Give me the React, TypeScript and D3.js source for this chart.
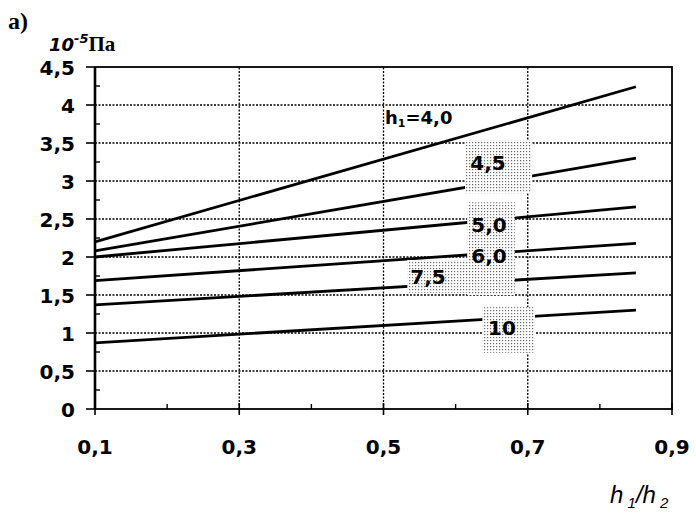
import React from "react";
import * as d3 from "d3";

// Curves: pressure (×10^-5 Pa) versus h1/h2 for several h1
const ratioStart = 0.1;
const ratioEnd = 0.85;
const seriesNames = ["4,0", "4,5", "5,0", "6,0", "7,5", "10"];
const valuesAtStart = [2.2, 2.08, 2.0, 1.69, 1.37, 0.87];
const valuesAtEnd = [4.24, 3.3, 2.66, 2.18, 1.79, 1.3];

const yTicks = [0, 0.5, 1, 1.5, 2, 2.5, 3, 3.5, 4, 4.5];
const yMinor = [0.25, 0.75, 1.25, 1.75, 2.25, 2.75, 3.25, 3.75, 4.25];
const xTicks = [0.1, 0.3, 0.5, 0.7, 0.9];
const xMinor = [0.2, 0.4, 0.6, 0.8];

const W = 696;
const H = 518;
const x = d3.scaleLinear().domain([0.1, 0.9]).range([95, 672]);
const y = d3.scaleLinear().domain([0, 4.5]).range([409, 67]);

const fmt = (v: number) => String(v).replace(".", ",");

const line = d3
  .line<[number, number]>()
  .x((d) => x(d[0]))
  .y((d) => y(d[1]));

// stippled label backgrounds in data coordinates: [x0, x1, yTop, yBottom]
const boxes: [number, number, number, number][] = [
  [0.613, 0.706, 3.54, 2.84],
  [0.616, 0.682, 2.72, 1.5],
  [0.533, 0.62, 1.96, 1.53],
  [0.637, 0.71, 1.34, 0.74],
];

export default function App() {
  const font = "'DejaVu Sans', 'Liberation Sans', Arial, sans-serif";
  const serif = "'Liberation Serif', 'DejaVu Serif', serif";
  return (
    <svg
      width={W}
      height={H}
      style={{ position: "absolute", left: 0, top: 0, background: "#fff" }}
    >
      <defs>
        <pattern id="stip" width="3" height="3" patternUnits="userSpaceOnUse">
          <rect width="3" height="3" fill="#fff" />
          <rect x="1" y="1" width="1.2" height="1.2" fill="#6a6a6a" />
        </pattern>
      </defs>

      {/* dotted grid */}
      {yTicks.slice(1, -1).map((t) => (
        <line
          key={"gy" + t}
          x1={x(0.1)}
          x2={x(0.9)}
          y1={y(t)}
          y2={y(t)}
          stroke="#000"
          strokeWidth={1.3}
          strokeDasharray="2,1.5"
        />
      ))}
      {xTicks.slice(1, -1).map((t) => (
        <line
          key={"gx" + t}
          x1={x(t)}
          x2={x(t)}
          y1={y(0)}
          y2={y(4.5)}
          stroke="#000"
          strokeWidth={1.3}
          strokeDasharray="2,1.5"
        />
      ))}

      {/* curves */}
      {seriesNames.map((n, i) => (
        <path
          key={n}
          d={
            line([
              [ratioStart, valuesAtStart[i]],
              [ratioEnd, valuesAtEnd[i]],
            ]) || ""
          }
          fill="none"
          stroke="#000"
          strokeWidth={2.8}
        />
      ))}

      {/* stippled label backgrounds */}
      {boxes.map((b, i) => (
        <rect
          key={"b" + i}
          x={x(b[0])}
          y={y(b[2])}
          width={x(b[1]) - x(b[0])}
          height={y(b[3]) - y(b[2])}
          fill="url(#stip)"
        />
      ))}

      {/* frame */}
      <rect
        x={x(0.1)}
        y={y(4.5)}
        width={x(0.9) - x(0.1)}
        height={y(0) - y(4.5)}
        fill="none"
        stroke="#000"
        strokeWidth={1.8}
      />
      <line x1={x(0.1)} x2={x(0.1)} y1={y(0)} y2={y(4.5)} stroke="#000" strokeWidth={2.6} />

      {/* y ticks */}
      {yTicks.map((t) => (
        <g key={"yt" + t}>
          <line x1={x(0.1) - 9} x2={x(0.1)} y1={y(t)} y2={y(t)} stroke="#000" strokeWidth={1.6} />
          <text
            x={75}
            y={y(t) + 7.5}
            textAnchor="end"
            fontFamily={font}
            fontWeight="bold"
            fontSize={20}
          >
            {fmt(t)}
          </text>
        </g>
      ))}
      {yMinor.map((t) => (
        <line key={"ym" + t} x1={x(0.1)} x2={x(0.1) + 5} y1={y(t)} y2={y(t)} stroke="#000" strokeWidth={1.4} />
      ))}

      {/* x ticks */}
      {xTicks.map((t) => (
        <g key={"xt" + t}>
          <line x1={x(t)} x2={x(t)} y1={y(0) - 6} y2={y(0) + 6} stroke="#000" strokeWidth={1.6} />
          <text
            x={x(t)}
            y={454}
            textAnchor="middle"
            fontFamily={font}
            fontWeight="bold"
            fontSize={20}
          >
            {fmt(t)}
          </text>
        </g>
      ))}
      {xMinor.map((t) => (
        <line key={"xm" + t} x1={x(t)} x2={x(t)} y1={y(0)} y2={y(0) - 5} stroke="#000" strokeWidth={1.4} />
      ))}

      {/* curve labels */}
      <text x={385} y={124} fontFamily={font} fontWeight="bold" fontSize={18}>
        h<tspan fontSize={11} dy={3}>1</tspan>
        <tspan dy={-3}>=4,0</tspan>
      </text>
      <text x={488} y={170} textAnchor="middle" fontFamily={font} fontWeight="bold" fontSize={20}>
        4,5
      </text>
      <text x={489} y={232} textAnchor="middle" fontFamily={font} fontWeight="bold" fontSize={20}>
        5,0
      </text>
      <text x={489} y={263} textAnchor="middle" fontFamily={font} fontWeight="bold" fontSize={20}>
        6,0
      </text>
      <text x={428} y={284} textAnchor="middle" fontFamily={font} fontWeight="bold" fontSize={20}>
        7,5
      </text>
      <text x={502} y={335} textAnchor="middle" fontFamily={font} fontWeight="bold" fontSize={20}>
        10
      </text>

      {/* titles */}
      <text x={8} y={29} fontFamily={serif} fontWeight="bold" fontSize={24}>
        a)
      </text>
      <text x={49} y={51} fontFamily={font} fontWeight="bold" fontStyle="italic" fontSize={18}>
        10
        <tspan fontSize={13} dy={-8}>-5</tspan>
        <tspan dy={8} fontFamily={serif} fontStyle="normal" fontSize={21}>
          Па
        </tspan>
      </text>
      <text x={610} y={503} fontFamily="'Liberation Sans', Arial, sans-serif" fontStyle="italic" fontSize={24}>
        h
        <tspan fontSize={15} dy={5}> 1</tspan>
        <tspan dy={-5}>/h</tspan>
        <tspan fontSize={15} dy={5}> 2</tspan>
      </text>
    </svg>
  );
}
